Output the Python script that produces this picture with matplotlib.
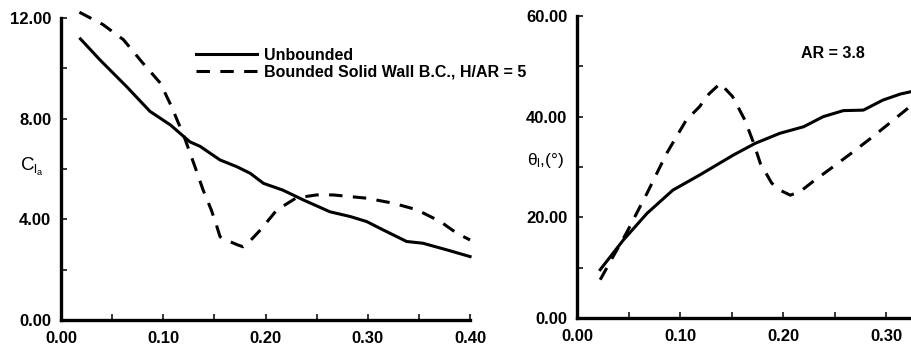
"""Lift-curve slope and incidence angle versus gap ratio, two panels."""

import matplotlib

matplotlib.use("Agg")
from matplotlib import pyplot as plt
from matplotlib.ticker import FixedLocator, FuncFormatter, MultipleLocator

plt.rcParams["font.family"] = ["Liberation Sans", "DejaVu Sans"]
plt.rcParams["font.weight"] = "bold"
plt.rcParams["mathtext.fontset"] = "custom"
plt.rcParams["mathtext.rm"] = "Liberation Sans:bold"
plt.rcParams["mathtext.it"] = "Liberation Sans:bold"

# Left panel: C_l_alpha
cla_x_unb = [0.019, 0.038, 0.064, 0.087, 0.107, 0.126, 0.136, 0.1555, 0.172,
             0.185, 0.198, 0.217, 0.237, 0.263, 0.283, 0.299, 0.315, 0.338,
             0.354, 0.377, 0.40]
cla_y_unb = [11.17, 10.34, 9.28, 8.29, 7.75, 7.08, 6.90, 6.36, 6.09,
             5.83, 5.43, 5.16, 4.77, 4.30, 4.11, 3.91, 3.58, 3.12,
             3.05, 2.79, 2.52]
cla_x_bnd = [0.018, 0.041, 0.061, 0.080, 0.097, 0.108, 0.121, 0.131, 0.139,
             0.147, 0.152, 0.1555, 0.159, 0.173, 0.178, 0.183, 0.195, 0.211,
             0.230, 0.250, 0.266, 0.299, 0.325, 0.348, 0.371, 0.387, 0.40]
cla_y_bnd = [12.23, 11.74, 11.14, 10.21, 9.42, 8.49, 7.22, 6.09, 5.16,
             4.37, 3.77, 3.31, 3.22, 2.98, 2.91, 3.06, 3.58, 4.37,
             4.85, 4.97, 4.97, 4.84, 4.64, 4.38, 3.91, 3.45, 3.18]

# Right panel: theta_l in degrees
th_x_unb = [0.0225, 0.045, 0.068, 0.093, 0.119, 0.152, 0.173, 0.197, 0.220,
            0.239, 0.2585, 0.278, 0.297, 0.314, 0.325]
th_y_unb = [9.6, 15.5, 20.8, 25.4, 28.4, 32.4, 34.7, 36.7, 38.0,
            40.0, 41.2, 41.3, 43.3, 44.5, 45.0]
th_x_bnd = [0.0225, 0.035, 0.048, 0.068, 0.087, 0.106, 0.119, 0.128, 0.139,
            0.151, 0.163, 0.171, 0.178, 0.189, 0.197, 0.207, 0.2165, 0.229,
            0.249, 0.268, 0.287, 0.307, 0.325]
th_y_bnd = [7.6, 12.2, 16.9, 24.8, 32.7, 39.3, 42.0, 44.5, 46.6,
            44.0, 39.3, 35.0, 30.7, 26.8, 25.4, 24.4, 25.1, 27.1,
            30.1, 33.0, 36.0, 39.3, 42.3]

legend_labels = ["Unbounded", "Bounded Solid Wall B.C., H/AR = 5"]
LW = 2.2
DASH = (4.4, 3.4)


def style_axes(ax, ymax, ystep, ylabel_every, xtick_max=0.40):
    for side in ("top", "right"):
        ax.spines[side].set_visible(False)
    for side in ("left", "bottom"):
        ax.spines[side].set_linewidth(2.4)
        ax.spines[side].set_capstyle("projecting")
    ax.set_xlim(0, 0.40)
    ax.set_ylim(0, ymax)
    xt = [i * 0.05 for i in range(int(round(xtick_max / 0.05)) + 1)]
    ax.xaxis.set_major_locator(FixedLocator(xt))
    ax.xaxis.set_major_formatter(FuncFormatter(
        lambda v, p: f"{v:.2f}" if round(v / 0.05) % 2 == 0 else ""))
    yt = [i * ystep for i in range(int(round(ymax / ystep)) + 1)]
    ax.yaxis.set_major_locator(FixedLocator(yt))
    ax.yaxis.set_major_formatter(FuncFormatter(
        lambda v, p: f"{v:.2f}" if round(v / ystep) % ylabel_every == 0 else ""))
    ax.tick_params(which="both", direction="in", length=4.5, width=1.1,
                   labelsize=12, colors="black")
    ax.tick_params(axis="y", pad=7)
    ax.tick_params(axis="x", pad=8)
    for lab in ax.get_xticklabels() + ax.get_yticklabels():
        lab.set_fontweight("bold")


def main():
    fig = plt.figure(figsize=(9.12, 3.47), dpi=100)

    ax1 = fig.add_axes([0.0669, 0.0778, 0.4485, 0.8703])
    ax1.plot(cla_x_unb, cla_y_unb, color="black", lw=LW, clip_on=False,
             label=legend_labels[0])
    ax1.plot(cla_x_bnd, cla_y_bnd, color="black", lw=LW, dashes=DASH,
             clip_on=False, label=legend_labels[1])
    style_axes(ax1, 12.0, 2.0, 2)
    ax1.set_ylabel(r"C$_{\mathregular{l_a}}$", rotation=0, fontsize=13.5,
                   ha="center", va="center")
    ax1.yaxis.set_label_coords(-0.072, 0.507)
    leg = ax1.legend(loc="upper left", bbox_to_anchor=(0.33, 0.902),
                     frameon=False, fontsize=11.5, handlelength=3.8,
                     handletextpad=0.45, labelspacing=0.12, borderpad=0,
                     borderaxespad=0)
    for t in leg.get_texts():
        t.set_fontweight("bold")

    ax2 = fig.add_axes([0.6327, 0.0836, 0.4518, 0.8703])
    ax2.plot(th_x_unb, th_y_unb, color="black", lw=LW, clip_on=False)
    ax2.plot(th_x_bnd, th_y_bnd, color="black", lw=LW, dashes=DASH,
             clip_on=False)
    style_axes(ax2, 60.0, 10.0, 2, xtick_max=0.35)
    ax2.set_ylabel("θ$_{\\mathregular{l}}$,(°)", rotation=0, fontsize=12.5,
                   ha="center", va="center")
    ax2.yaxis.set_label_coords(-0.075, 0.52)
    ax2.text(0.2485, 52.5, "AR = 3.8", fontsize=11.5, fontweight="bold",
             ha="center", va="center")

    fig.savefig("out.png", dpi=100)


if __name__ == "__main__":
    main()
